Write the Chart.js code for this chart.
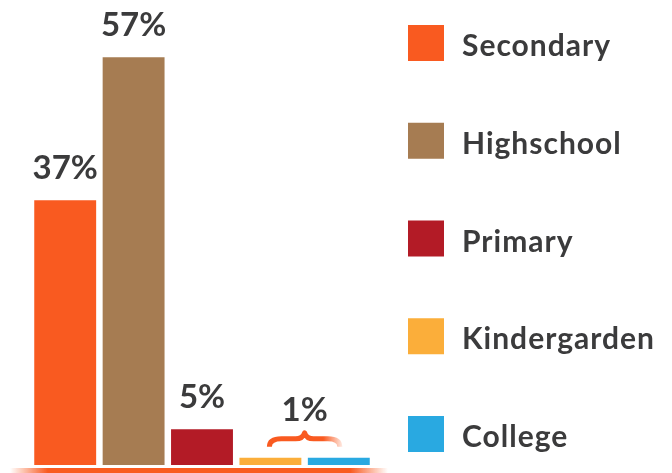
<!DOCTYPE html>
<html>
<head>
<meta charset="utf-8">
<script src="https://cdn.jsdelivr.net/npm/chart.js@4/dist/chart.umd.min.js"></script>
<style>
    html, body { margin: 0; padding: 0; background: #ffffff; }
    canvas { display: block; }
</style>
</head>
<body>
<canvas id="levelChart" width="672" height="473"></canvas>
<script>
// Education level shares
const categories = ['Secondary', 'Highschool', 'Primary', 'Kindergarden', 'College'];
const shares = [37, 57, 5, 1, 1];
const valueLabels = ['37%', '57%', '5%'];
const groupLabel = '1%';   // shared label for the last two bars

// Color palette
const colors = ['#F95A20', '#A67C52', '#B31B26', '#FBAE3A', '#29A9E1'];
const accent = '#F95A20';
const textColor = '#3b3b3c';

/**
 * Labels above bars, brace for the small ones, base line and legend
 */
const decorPlugin = {
    id: 'decor',
    afterDatasetsDraw(chart) {
        const ctx = chart.ctx;
        const area = chart.chartArea;
        const bars = chart.getDatasetMeta(0).data;

        ctx.save();

        // value labels
        ctx.fillStyle = textColor;
        ctx.font = 'bold 33px Lato';
        ctx.textAlign = 'center';
        ctx.textBaseline = 'alphabetic';
        valueLabels.forEach((txt, i) => {
            ctx.fillText(txt, bars[i].x, bars[i].y - 21);
        });

        // brace over the last two bars
        const b1 = bars[3], b2 = bars[4];
        const left = b1.x - 3, right = b2.x + 3;
        const mid = (b1.x + b2.x) / 2;
        const tip = Math.min(b1.y, b2.y) - 25;
        const flat = tip + 6;
        const end = tip + 14;
        const braceGrad = ctx.createLinearGradient(left, 0, right, 0);
        braceGrad.addColorStop(0, accent);
        braceGrad.addColorStop(0.75, accent);
        braceGrad.addColorStop(1, 'rgba(249,90,32,0.15)');
        ctx.strokeStyle = braceGrad;
        ctx.lineWidth = 5;
        ctx.lineCap = 'butt';
        ctx.lineJoin = 'round';
        ctx.beginPath();
        ctx.moveTo(left + 2, end);
        ctx.quadraticCurveTo(left + 2, flat, left + 14, flat);
        ctx.lineTo(mid - 9, flat);
        ctx.quadraticCurveTo(mid - 2, flat, mid, tip);
        ctx.quadraticCurveTo(mid + 2, flat, mid + 9, flat);
        ctx.lineTo(right - 14, flat);
        ctx.quadraticCurveTo(right - 2, flat, right - 2, end);
        ctx.stroke();

        ctx.fillStyle = textColor;
        ctx.fillText(groupLabel, mid, tip - 12);

        // base line fading at both ends
        const x0 = area.left - 21, x1 = area.right + 15;
        const baseGrad = ctx.createLinearGradient(x0, 0, x1, 0);
        baseGrad.addColorStop(0, 'rgba(249,90,32,0)');
        baseGrad.addColorStop(0.1, accent);
        baseGrad.addColorStop(0.9, accent);
        baseGrad.addColorStop(1, 'rgba(249,90,32,0)');
        ctx.fillStyle = baseGrad;
        ctx.fillRect(x0, area.bottom + 3, x1 - x0, 6);

        // legend
        ctx.font = 'bold 30px Lato';
        ctx.letterSpacing = '1px';
        ctx.textAlign = 'left';
        categories.forEach((name, i) => {
            const top = 25 + i * 97.75;
            ctx.fillStyle = colors[i];
            ctx.fillRect(408, top, 36, 36);
            ctx.fillStyle = textColor;
            ctx.fillText(name, 462, top + 31);
        });

        ctx.restore();
    }
};

document.addEventListener('DOMContentLoaded', function() {
    const levelCtx = document.getElementById('levelChart').getContext('2d');
    new Chart(levelCtx, {
        type: 'bar',
        data: {
            labels: categories,
            datasets: [{
                data: shares,
                backgroundColor: colors,
                borderWidth: 0,
                barPercentage: 0.905,
                categoryPercentage: 1
            }]
        },
        options: {
            responsive: false,
            animation: false,
            layout: {
                padding: { left: 31, right: 299, top: 0, bottom: 8 }
            },
            scales: {
                x: { display: false },
                y: { display: false, min: 0, max: 65 }
            },
            plugins: {
                legend: { display: false },
                tooltip: { enabled: false }
            }
        },
        plugins: [decorPlugin]
    });
});
</script>
</body>
</html>
